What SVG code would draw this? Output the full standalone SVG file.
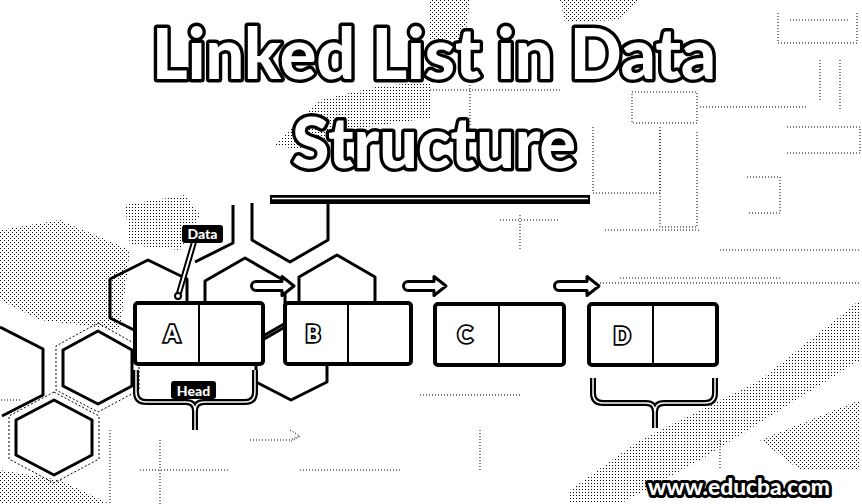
<svg xmlns="http://www.w3.org/2000/svg" width="862" height="504" viewBox="0 0 862 504">
<defs>
<pattern id="dots" width="3" height="3" patternUnits="userSpaceOnUse"><rect x="0" y="0" width="1" height="1" fill="#000"/></pattern>
<pattern id="dots2" width="4" height="4" patternUnits="userSpaceOnUse"><rect x="0" y="0" width="1" height="1" fill="#000"/><rect x="2" y="2" width="1" height="1" fill="#000"/></pattern>
<style>
.tex{fill:url(#dots);stroke:none}
.tex2{fill:url(#dots2);stroke:none}
.circ{fill:none;stroke:#000;stroke-width:1;stroke-dasharray:1 2}
.hex{fill:none;stroke:#000;stroke-width:3;stroke-linejoin:round}
.hexl{fill:none;stroke:#000;stroke-width:1;stroke-dasharray:2 2}
.title{font-family:Lato,"Liberation Sans",sans-serif;font-weight:900;fill:#fff;stroke:#000;stroke-width:7;stroke-linejoin:round;paint-order:stroke;text-anchor:middle}
.box{fill:#fff;stroke:#000;stroke-width:4}
.div{stroke:#000;stroke-width:2}
.let{font-family:Lato,"Liberation Sans",sans-serif;font-weight:900;font-size:22px;fill:#fff;stroke:#000;stroke-width:3.5;paint-order:stroke;text-anchor:middle}
.arr{fill:#fff;stroke:#000;stroke-width:3;stroke-linejoin:round}
.tag{fill:#000}
.tagt{font-family:Lato,"Liberation Sans",sans-serif;font-weight:900;font-size:14px;fill:#fff;text-anchor:middle}
.braceo{fill:none;stroke:#000;stroke-width:6;stroke-linejoin:round}
.bracei{fill:none;stroke:#fff;stroke-width:1.5;stroke-linejoin:round}
.wm{font-family:Lato,"Liberation Sans",sans-serif;font-weight:900;font-size:22px;fill:#fff;stroke:#000;stroke-width:6;stroke-linejoin:round;paint-order:stroke;text-anchor:middle}
</style>
</defs>
<rect width="862" height="504" fill="#fff"/>

<g id="background">
<polygon class="tex" points="275,145 320,100 380,86 430,82 430,118 360,128 300,150"/>
<polygon class="tex2" points="430,0 470,0 465,40 430,40"/>
<polygon class="tex2" points="560,0 640,0 620,20 565,22"/>
<polygon class="tex" points="125,205 185,195 200,215 180,250 130,245"/>
<polygon class="tex2" points="0,230 60,220 130,250 120,330 40,320 0,300"/>
<polygon class="tex" points="570,490 640,440 760,380 860,300 860,360 780,410 700,460 620,504 570,504"/>
<polygon class="tex2" points="760,440 860,400 860,470 800,470"/>
<polygon class="tex2" points="0,470 60,480 110,504 0,504"/>
<path class="circ" d="M778,13 V43 H857 V13 M790,20 H850 M632,92 H697 V123 H632 Z M593,127 V193 H660 V127 M660,130 V227 H697 V130 M747,177 H780 V213 H747 M787,127 H860 V153 H787 M700,107 H807 M600,283 H860 M620,278 H780 M840,60 V110 M820,60 V100 M605,230 H700 M720,250 H860 M430,90 H560 M470,85 V125 M500,220 H560 M520,215 V250 M20,400 H0 M110,430 V504 M140,470 H230 M160,440 V504 M300,470 H400 M420,395 H520 M480,430 V470 M720,440 V470 M650,330 H700"/>
<path class="circ" d="M250,440 H290 L300,436 M290,430 L300,436 L290,442"/>
</g>

<g id="hexagons">
<polyline class="hex" points="252,203 252,240 290,262 328,240 328,203"/>
<polyline class="hex" points="233,205 233,243 195,262"/>
<polygon class="hex" points="245,258 285,281 285,327 245,350 205,327 205,281"/>
<polygon class="hex" points="337,255 375,277 375,321 337,343 299,321 299,277"/>
<polygon class="hex" points="291,320 327,340 327,382 291,400 256,382 256,340"/>
<polygon class="hex" points="148,260 187,279 187,318 148,337 110,318 110,279"/>
<polygon class="hex" points="98,331 132,350 132,386 98,404 63,386 63,350"/>
<polygon class="hex" points="54,400 92,420 92,455 54,475 16,455 16,420"/>
<polyline class="hex" points="0,327 43,349 43,395 2,416"/>
<polygon class="hexl" points="98,323 139,346 139,390 98,412 56,390 56,346"/>
<polygon class="hexl" points="54,392 99,416 99,459 54,483 9,459 9,416"/>
</g>

<g id="title">
<text class="title" x="434" y="79" font-size="70" textLength="564" lengthAdjust="spacingAndGlyphs">Linked List in Data</text>
<text class="title" x="434" y="168" font-size="70" textLength="284" lengthAdjust="spacingAndGlyphs">Structure</text>
<rect x="270" y="195" width="320" height="9" fill="#000"/>
<line x1="272" y1="198.5" x2="588" y2="198.5" stroke="#fff" stroke-width="1.5"/>
</g>

<g id="connectors">
<path class="arr" d="M256,281.5 H282 V276.5 L294,286 L282,295.5 V290.5 H256 A4.5,4.5 0 0 1 256,281.5 Z"/>
<path class="arr" d="M408,281.5 H434 V276.5 L446,286 L434,295.5 V290.5 H408 A4.5,4.5 0 0 1 408,281.5 Z"/>
<path class="arr" d="M559,281.5 H587 V276.5 L599,286 L587,295.5 V290.5 H559 A4.5,4.5 0 0 1 559,281.5 Z"/>
<line x1="194" y1="242" x2="179" y2="293" stroke="#000" stroke-width="6" stroke-linecap="round"/>
<line x1="194" y1="242" x2="179" y2="293" stroke="#fff" stroke-width="2" stroke-linecap="round"/>
<circle cx="178" cy="296" r="3" fill="#fff" stroke="#000" stroke-width="2"/>
</g>

<g id="node-A">
<rect class="box" x="135" y="303" width="128" height="61" rx="3"/>
<line class="div" x1="199" y1="303" x2="199" y2="364"/>
<text class="let" x="172" y="342">A</text>
</g>
<g id="node-B">
<rect class="box" x="285" y="303" width="126" height="61" rx="3"/>
<line class="div" x1="348" y1="303" x2="348" y2="364"/>
<text class="let" x="313" y="342">B</text>
</g>
<g id="node-C">
<rect class="box" x="435" y="304" width="129" height="61" rx="3"/>
<line class="div" x1="499" y1="304" x2="499" y2="365"/>
<text class="let" x="465" y="343">C</text>
</g>
<g id="node-D">
<rect class="box" x="589" y="304" width="128" height="61" rx="3"/>
<line class="div" x1="653" y1="304" x2="653" y2="365"/>
<text class="let" x="622" y="344">D</text>
</g>

<g id="label-data">
<rect class="tag" x="182" y="225" width="41" height="18" rx="3"/>
<text class="tagt" x="202.5" y="239">Data</text>
</g>

<g id="brace-head">
<path class="braceo" d="M136,370 V392 Q136,402 146,402 H186 Q195,402 195,411 V430 M195,411 Q195,402 204,402 H245 Q255,402 255,392 V370"/>
<path class="bracei" d="M136,370 V392 Q136,402 146,402 H186 Q195,402 195,411 V430 M195,411 Q195,402 204,402 H245 Q255,402 255,392 V370"/>
<rect class="tag" x="171" y="381" width="45" height="18" rx="3"/>
<text class="tagt" x="193.5" y="396">Head</text>
</g>

<g id="brace-tail">
<path class="braceo" d="M593,378 V393 Q593,403 603,403 H646 Q655,403 655,412 V428 M655,412 Q655,403 664,403 H705 Q715,403 715,393 V378"/>
<path class="bracei" d="M593,378 V393 Q593,403 603,403 H646 Q655,403 655,412 V428 M655,412 Q655,403 664,403 H705 Q715,403 715,393 V378"/>
</g>

<g id="watermark">
<text class="wm" x="739" y="495" textLength="182" lengthAdjust="spacingAndGlyphs">www.educba.com</text>
</g>
</svg>
